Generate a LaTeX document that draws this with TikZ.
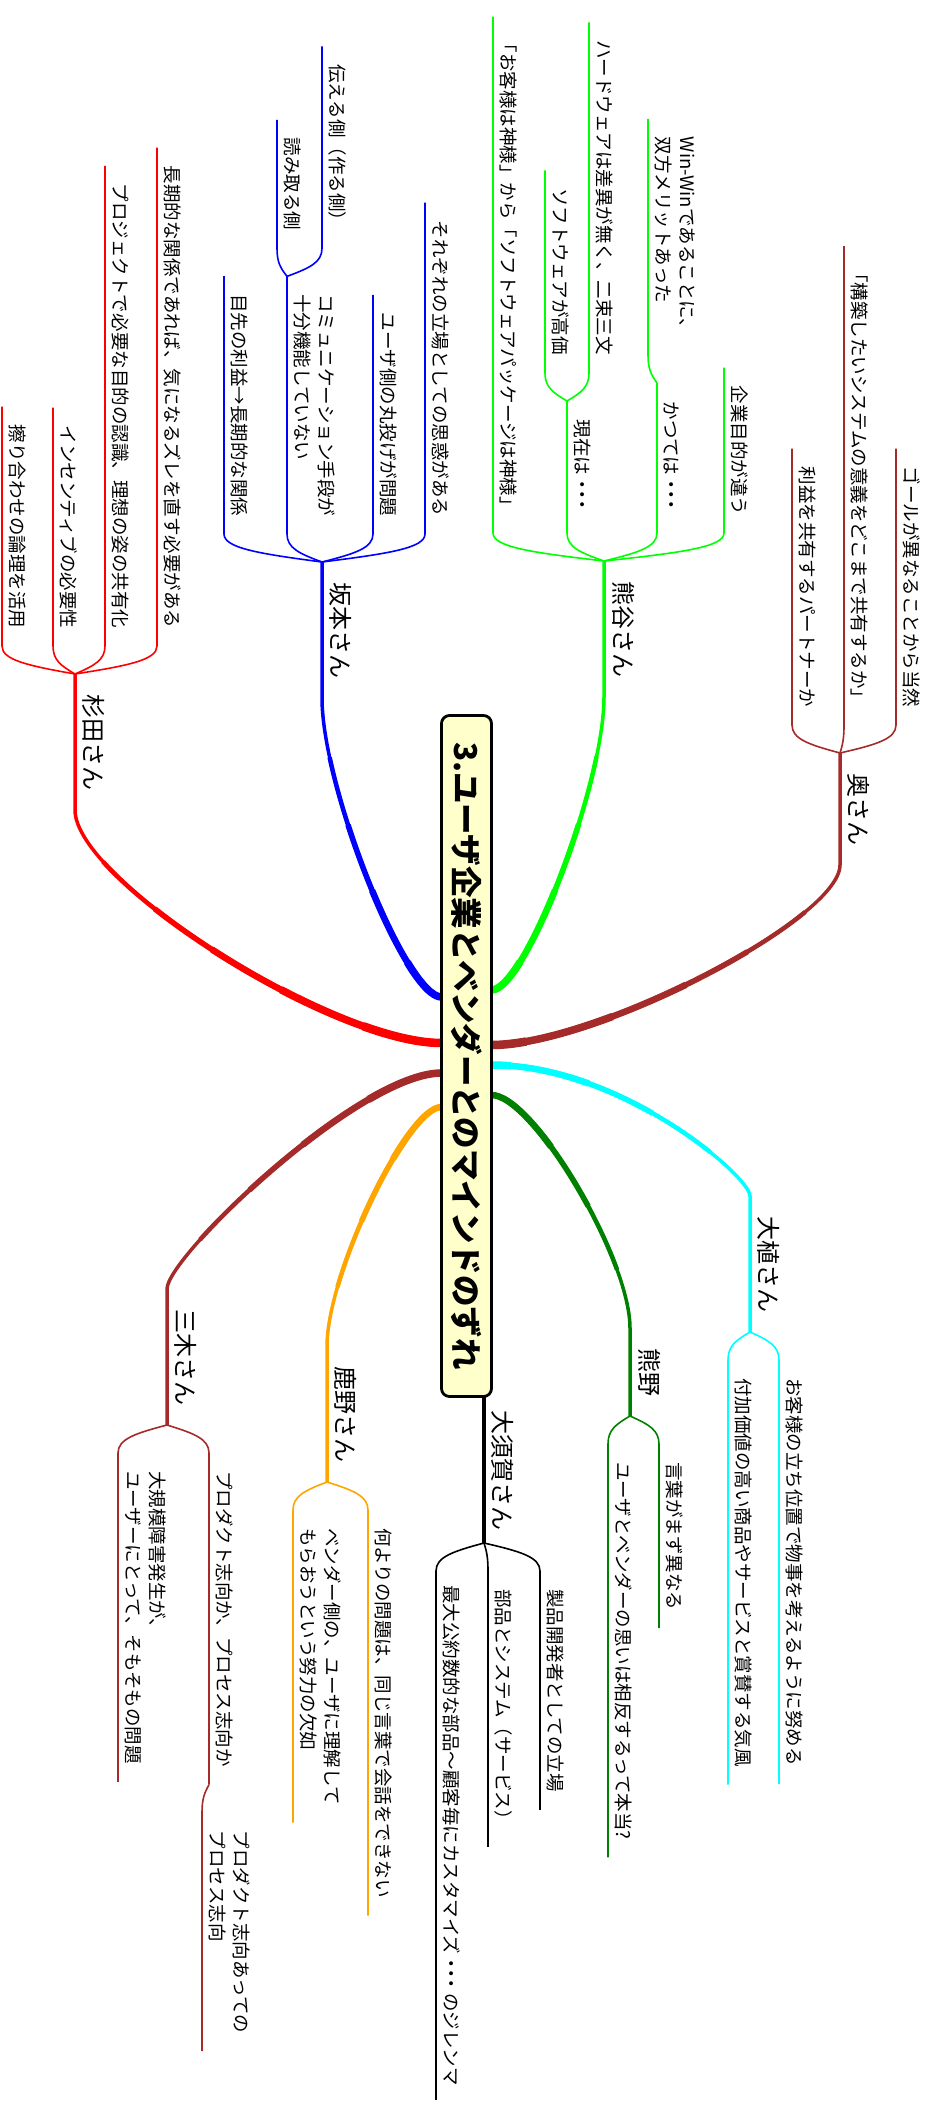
\documentclass[tikz,border=0pt]{standalone}
\usepackage{fontspec}
\setmainfont{Noto Sans CJK JP}
\usetikzlibrary{calc}

\definecolor{mmred}{RGB}{255,0,0}
\definecolor{mmblue}{RGB}{0,0,255}
\definecolor{mmlime}{RGB}{0,255,0}
\definecolor{mmbrown}{RGB}{165,42,42}
\definecolor{mmcyan}{RGB}{0,255,255}
\definecolor{mmgreen}{RGB}{0,128,0}
\definecolor{mmorange}{RGB}{255,165,0}
\definecolor{mmyellow}{RGB}{255,255,204}

\newcommand{\middots}{・\kern-.45em・\kern-.45em・}

\tikzset{
  topic/.style={rotate=-90, inner xsep=18, inner ysep=7, outer sep=0, align=left, font=\fontsize{18.5}{24}\selectfont},
  chief/.style={topic, inner xsep=20, inner ysep=8, font=\fontsize{24}{28}\selectfont},
  twig/.style={draw=#1, line width=1.6},
}

\newcommand{\trunk}[7]{%
  \draw[#1, line width=3.5] (#2) .. controls ($(#2)!#6!(#3.#4 |- #2)$) and ($(#3.#4)!#7!(#3.#4 |- #2)$) .. (#3.#4) -- (#3.#5);
  \foreach \dist/\wid in {60/4.5,130/5.5,200/6.5,280/7.5,370/8.5}
    \draw[#1, line width=\wid, dash pattern=on 5000pt off \dist pt, dash phase=5000pt] (#3.#4) .. controls ($(#3.#4)!#7!(#3.#4 |- #2)$) and ($(#2)!#6!(#3.#4 |- #2)$) .. (#2);
}
\newcommand{\upkid}[6][]{%
  \node[topic, anchor=south east, #1] (#2) at ($(#3.south west)+(#4,-28)$) {#6};
  \draw[twig=#5] (#3.south west) .. controls ($(#3.south west)!.5!(#2.south east |- #3.south west)!.3!(#2.south east)$) and ($(#2.south east)!.5!(#2.south east |- #3.south west)$) .. (#2.south east) -- (#2.south west);
}
\newcommand{\downkid}[6][]{%
  \node[topic, anchor=south west, #1] (#2) at ($(#3.south east)+(#4,28)$) {#6};
  \draw[twig=#5] (#3.south east) .. controls ($(#3.south east)!.5!(#2.south west |- #3.south east)!.3!(#2.south west)$) and ($(#2.south west)!.5!(#2.south west |- #3.south east)$) .. (#2.south west) -- (#2.south east);
}

\begin{document}
\begin{tikzpicture}[x=1pt,y=-1pt,line join=round]
  \useasboundingbox (0,0) rectangle (930,2111);

  \coordinate (r-sakamoto) at (441.5,997);
  \coordinate (r-sugita) at (441.5,1043);
  \coordinate (r-miki) at (441.5,1073);
  \coordinate (r-shikano) at (441.5,1107);
  \coordinate (r-kumagai) at (491.5,990);
  \coordinate (r-oku) at (491.5,1045);
  \coordinate (r-oue) at (491.5,1065);
  \coordinate (r-kumano) at (491.5,1095);
  \coordinate (r-osuga) at (484,1397);

  \node[chief, anchor=south west] (sugita) at (75,674) {杉田さん};
  \node[chief, anchor=south west] (sakamoto) at (322,562) {坂本さん};
  \node[chief, anchor=south west] (kumagai) at (604,561) {熊谷さん};
  \node[chief, anchor=south west] (oku) at (840,753) {奥さん};
  \node[chief, anchor=south east] (oue) at (750,1332) {大植さん};
  \node[chief, anchor=south east] (kumano) at (630,1416) {熊野};
  \node[chief, anchor=south east, minimum width=146, inner xsep=11] (osuga) at (484,1543) {大須賀さん};
  \node[chief, anchor=south east] (shikano) at (327,1482) {鹿野さん};
  \node[chief, anchor=south east] (miki) at (167,1425) {三木さん};

  \trunk{mmred}{r-sugita}{sugita}{south east}{south west}{.3}{.3}
  \trunk{mmblue}{r-sakamoto}{sakamoto}{south east}{south west}{.3}{.3}
  \trunk{mmlime}{r-kumagai}{kumagai}{south east}{south west}{.3}{.3}
  \trunk{mmbrown}{r-oku}{oku}{south east}{south west}{.3}{.3}
  \trunk{mmcyan}{r-oue}{oue}{south west}{south east}{.5}{.15}
  \trunk{mmgreen}{r-kumano}{kumano}{south west}{south east}{.3}{.3}
  \trunk{mmorange}{r-shikano}{shikano}{south west}{south east}{.3}{.3}
  \trunk{mmbrown}{r-miki}{miki}{south west}{south east}{.3}{.15}
  \draw[line width=4] (r-osuga) -- (osuga.south west) -- (osuga.south east);

  \upkid{s1}{sugita}{-73}{mmred}{擦り合わせの論理を活用}
  \upkid{s2}{sugita}{-22}{mmred}{インセンティブの必要性}
  \upkid{s3}{sugita}{30}{mmred}{プロジェクトで必要な目的の認識、理想の姿の共有化}
  \upkid{s4}{sugita}{82}{mmred}{長期的な関係であれば、気になるズレを直す必要がある}

  \upkid{k1}{sakamoto}{-98}{mmblue}{目先の利益→長期的な関係}
  \upkid{k2}{sakamoto}{-35}{mmblue}{コミュニケーション手段が\\十分機能していない}
  \upkid{k3}{sakamoto}{51}{mmblue}{ユーザ側の丸投げが問題}
  \upkid{k4}{sakamoto}{103}{mmblue}{それぞれの立場としての思惑がある}
  \upkid{k21}{k2}{-10}{mmblue}{読み取る側}
  \upkid{k22}{k2}{35}{mmblue}{伝える側（作る側）}

  \upkid{g1}{kumagai}{-111}{mmlime}{「お客様は神様」から「ソフトウェアパッケージは神様」}
  \upkid[minimum width=132]{g2}{kumagai}{-37}{mmlime}{現在は\middots}
  \upkid[minimum width=150]{g3}{kumagai}{53}{mmlime}{かつては\middots}
  \upkid{g4}{kumagai}{120}{mmlime}{企業目的が違う}
  \upkid{g21}{g2}{-22}{mmlime}{ソフトウェアが高価}
  \upkid{g22}{g2}{22}{mmlime}{ハードウェアは差異が無く、二束三文}
  \upkid{g31}{g3}{-9}{mmlime}{Win-Winであることに、\\双方メリットあった}

  \upkid{o1}{oku}{-48}{mmbrown}{利益を共有するパートナーか}
  \upkid{o2}{oku}{4}{mmbrown}{「構築したいシステムの意義をどこまで共有するか」}
  \upkid{o3}{oku}{56}{mmbrown}{ゴールが異なることから当然}

  \downkid{u1}{oue}{-22}{mmcyan}{付加価値の高い商品やサービスと賞賛する気風}
  \downkid{u2}{oue}{29}{mmcyan}{お客様の立ち位置で物事を考えるように努める}

  \downkid{n1}{kumano}{-22}{mmgreen}{ユーザとベンダーの思いは相反するって本当?}
  \downkid{n2}{kumano}{29}{mmgreen}{言葉がまず異なる}

  \downkid[inner xsep=14]{a1}{osuga}{-48}{black}{最大公約数的な部品～顧客毎にカスタマイズ\middots のジレンマ}
  \downkid{a2}{osuga}{4}{black}{部品とシステム（サービス）}
  \downkid{a3}{osuga}{56}{black}{製品開発者としての立場}

  \downkid{h1}{shikano}{-34}{mmorange}{ベンダー側の、ユーザに理解して\\もらおうという努力の欠如}
  \downkid{h2}{shikano}{41}{mmorange}{何よりの問題は、同じ言葉で会話をできない}

  \downkid{m1}{miki}{-49}{mmbrown}{大規模障害発生が、\\ユーザーにとって、そもそもの問題}
  \downkid{m2}{miki}{42}{mmbrown}{プロダクト志向か、プロセス志向か}
  \downkid{m21}{m2}{-7}{mmbrown}{プロダクト志向あっての\\プロセス志向}

  \node[rotate=-90, draw, line width=2.8, rounded corners=8, fill=mmyellow, minimum width=681, minimum height=50, inner sep=0, font=\bfseries\fontsize{31.5}{34}\selectfont] (root) at (466.5,1056) {3.ユーザ企業とベンダーとのマインドのずれ};
\end{tikzpicture}
\end{document}
